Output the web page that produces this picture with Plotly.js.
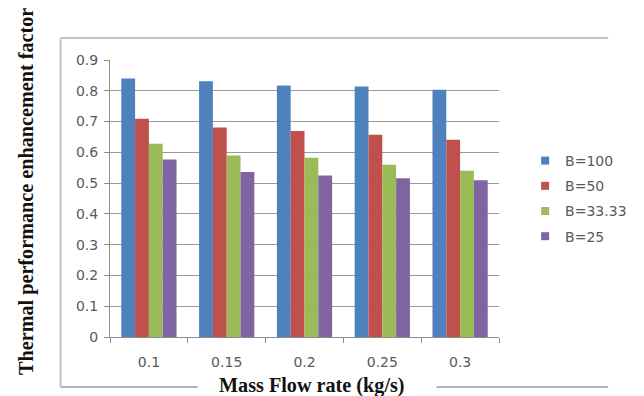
<!DOCTYPE html>
<html>
<head>
<meta charset="utf-8">
<script src="https://cdn.plot.ly/plotly-3.0.1.min.js"></script>
<style>
  html, body { margin: 0; padding: 0; background: #ffffff; }
  #chart { width: 644px; height: 396px; }
</style>
</head>
<body>
<div id="chart"></div>
<script>
// Mass flow rate categories (kg/s)
const flowRates = ['0.1', '0.15', '0.2', '0.25', '0.3'];

// Thermal performance enhancement factor for each rib pitch ratio B
const seriesNames = ['B=100', 'B=50', 'B=33.33', 'B=25'];
const b100 = [0.84, 0.831, 0.817, 0.814, 0.803];
const b50 = [0.709, 0.681, 0.669, 0.657, 0.641];
const b3333 = [0.628, 0.590, 0.582, 0.560, 0.540];
const b25 = [0.577, 0.536, 0.525, 0.516, 0.509];

const yTicks = [0, 0.1, 0.2, 0.3, 0.4, 0.5, 0.6, 0.7, 0.8, 0.9];

const colors = ['#4F81BD', '#C0504D', '#9BBB59', '#8064A2'];
const values = [b100, b50, b3333, b25];

// the bars themselves
const bars = values.map((v, i) => ({
  type: 'bar',
  name: seriesNames[i],
  x: flowRates,
  y: v,
  showlegend: false,
  marker: { color: colors[i], line: { width: 0 } },
  hoverinfo: 'x+y+name'
}));

// legend keys: small square swatches, one per series
const keys = seriesNames.map((n, i) => ({
  type: 'scatter',
  mode: 'markers',
  name: n,
  x: [null],
  y: [null],
  legendgroup: 'g' + i,
  marker: { symbol: 'square', size: 8, color: colors[i] },
  hoverinfo: 'skip'
}));

// plot area: x 110..527 px, y 60..337 px
const L = 110, R = 527, T = 60, B = 337;
const px = x => (x - L) / (R - L);
const py = y => (B - y) / (B - T);

const frameColor = '#c4c4c4';
const shapes = [
  // outer frame, bottom edge broken around the x-axis title
  { type: 'line', xref: 'paper', yref: 'paper', x0: px(57), x1: px(644), y0: py(38), y1: py(38), line: { color: frameColor, width: 2 } },
  { type: 'line', xref: 'paper', yref: 'paper', x0: px(57), x1: px(57), y0: py(38), y1: py(387), line: { color: frameColor, width: 2 } },
  { type: 'line', xref: 'paper', yref: 'paper', x0: px(57), x1: px(204), y0: py(387), y1: py(387), line: { color: '#9a9a9a', width: 1.5 } },
  { type: 'line', xref: 'paper', yref: 'paper', x0: px(460), x1: px(644), y0: py(387), y1: py(387), line: { color: '#9a9a9a', width: 1.5 } }
];

const serif = 'Liberation Serif, Times New Roman, serif';
const annotations = [
  {
    text: '<b>Mass Flow rate (kg/s)</b>',
    xref: 'paper', yref: 'paper', x: px(327), y: py(385),
    xanchor: 'center', yanchor: 'middle', showarrow: false,
    font: { family: serif, size: 20.2, color: '#111111' }
  },
  {
    text: '<b>Thermal performance enhancement factor</b>',
    xref: 'paper', yref: 'paper', x: px(21), y: py(191),
    xanchor: 'center', yanchor: 'middle', showarrow: false, textangle: -90,
    font: { family: serif, size: 20.2, color: '#111111' }
  }
];

const tickFont = { family: 'DejaVu Sans, sans-serif', size: 14, color: '#595959' };

const layout = {
  width: 644,
  height: 396,
  margin: { l: L, r: 644 - R, t: T, b: 396 - B, pad: 0 },
  paper_bgcolor: '#ffffff',
  plot_bgcolor: '#ffffff',
  barmode: 'group',
  bargap: 0.29,
  bargroupgap: 0,
  showlegend: true,
  legend: {
    x: px(555), y: py(145), xanchor: 'left', yanchor: 'top',
    traceorder: 'grouped', tracegroupgap: 4,
    font: tickFont, itemwidth: 30, bgcolor: 'rgba(0,0,0,0)'
  },
  xaxis: {
    type: 'category',
    showgrid: false,
    showline: true, linecolor: '#8c8c8c', linewidth: 1,
    ticks: 'outside', tickson: 'boundaries', ticklen: 5, tickcolor: '#8c8c8c',
    tickfont: tickFont,
    ticklabelstandoff: 12
  },
  yaxis: {
    range: [0, 0.9],
    tickvals: yTicks,
    ticktext: yTicks.map(String),
    showgrid: true, gridcolor: '#9a9a9a', gridwidth: 1,
    zeroline: false,
    showline: true, linecolor: '#8c8c8c', linewidth: 1,
    ticks: 'outside', ticklen: 5, tickcolor: '#8c8c8c',
    tickfont: tickFont,
    ticklabelstandoff: 3
  },
  shapes: shapes,
  annotations: annotations
};

Plotly.newPlot('chart', bars.concat(keys), layout, { displayModeBar: false, staticPlot: true });
</script>
</body>
</html>
